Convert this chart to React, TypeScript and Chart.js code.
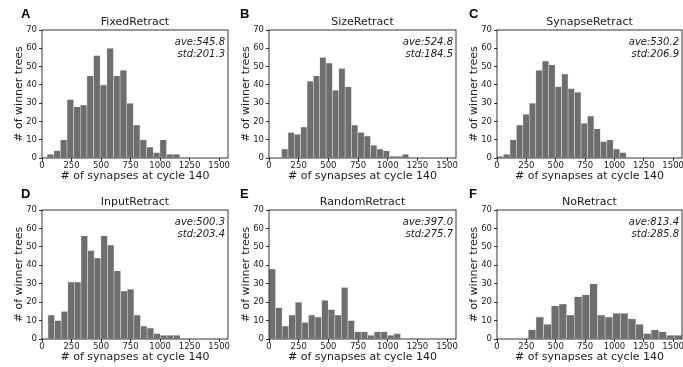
import React, { useEffect, useRef } from "react";
import { Chart, registerables } from "chart.js";

Chart.register(...registerables);

// ---------------- data ----------------
const panelTitles = ["FixedRetract", "SizeRetract", "SynapseRetract", "InputRetract", "RandomRetract", "NoRetract"];
const panelLetters = ["A", "B", "C", "D", "E", "F"];
const aveValues = ["545.8", "524.8", "530.2", "500.3", "397.0", "813.4"];
const stdValues = ["201.3", "184.5", "206.9", "203.4", "275.7", "285.8"];

// histogram bins: first edge and bin width (synapse counts)
const binStarts = [43, 106, 0, 50, 0, 266];
const binWidths = [56.2, 53.5, 55, 56, 55.4, 65.4];

const fixedCounts = [2, 4, 10, 32, 28, 29, 45, 56, 40, 60, 45, 48, 30, 18, 10, 6, 3, 10, 2, 2];
const sizeCounts = [5, 14, 13, 17, 42, 45, 55, 52, 37, 49, 39, 18, 14, 12, 7, 5, 4, 1, 1, 2];
const synapseCounts = [1, 2, 10, 18, 24, 30, 48, 53, 51, 39, 46, 38, 36, 19, 23, 16, 9, 10, 5, 3];
const inputCounts = [13, 10, 15, 31, 31, 56, 48, 44, 56, 51, 37, 26, 27, 13, 7, 6, 3, 2, 2, 2];
const randomCounts = [38, 17, 7, 13, 20, 9, 13, 12, 21, 16, 13, 28, 10, 4, 4, 2, 4, 4, 2, 3];
const noCounts = [5, 12, 8, 18, 19, 13, 23, 24, 30, 13, 12, 14, 14, 11, 8, 3, 5, 4, 2, 2];

const allCounts = [fixedCounts, sizeCounts, synapseCounts, inputCounts, randomCounts, noCounts];

const xTickValues = [0, 250, 500, 750, 1000, 1250, 1500];
const yTickValues = [0, 10, 20, 30, 40, 50, 60, 70];
const xMax = 1575;
const yMax = 70;

const xLabel = "# of synapses at cycle 140";
const yLabel = "# of winner trees";

// ---------------- layout ----------------
const colLefts = [42, 269, 497];
const colRights = [228, 456, 682];
const rowTops = [30, 210];
const rowBottoms = [158, 339];
const AXIS_W = 42;
const TOP_H = 30;
const BOTTOM_H = 26;
const RIGHT_PAD = 5;

const FONT = "'DejaVu Sans', sans-serif";
const TEXT = "#1a1a1a";
const BAR = "#6e6e6e";

const framePlugin = {
  id: "frame",
  afterDatasetsDraw(chart: any) {
    const { ctx, chartArea } = chart;
    const { left, top, right, bottom } = chartArea;
    ctx.save();
    ctx.strokeStyle = "#000";
    ctx.lineWidth = 0.8;
    ctx.strokeRect(left, top, right - left, bottom - top);
    ctx.restore();
  },
};

function Panel({ idx }: { idx: number }) {
  const ref = useRef<HTMLCanvasElement | null>(null);
  const col = idx % 3;
  const row = Math.floor(idx / 3);
  const pl = colLefts[col];
  const pr = colRights[col];
  const pt = rowTops[row];
  const pb = rowBottoms[row];
  const cw = pr - pl + AXIS_W + RIGHT_PAD;
  const ch = pb - pt + TOP_H + BOTTOM_H;

  useEffect(() => {
    if (!ref.current) return;
    const counts = allCounts[idx];
    const start = binStarts[idx];
    const w = binWidths[idx];
    const data = counts.map((c, i) => ({ x: start + w * (i + 0.5), y: c }));
    const chart = new Chart(ref.current, {
      type: "bar",
      data: {
        datasets: [
          {
            data,
            backgroundColor: BAR,
            borderColor: "rgba(215,215,215,0.7)",
            borderWidth: 0.6,
            barPercentage: 1,
            categoryPercentage: 1,
          } as any,
        ],
      },
      options: {
        responsive: false,
        animation: false,
        devicePixelRatio: 1,
        layout: { padding: { left: 0, right: RIGHT_PAD, top: 0, bottom: 0 } },
        plugins: {
          legend: { display: false },
          tooltip: { enabled: false },
          title: {
            display: true,
            text: panelTitles[idx],
            fullSize: false,
            color: TEXT,
            font: { family: FONT, size: 11, weight: "normal", lineHeight: 1.2 },
            padding: { top: 15.8, bottom: 1 },
          },
        },
        scales: {
          x: {
            type: "linear",
            min: 0,
            max: xMax,
            offset: false,
            afterFit: (s: any) => {
              s.height = BOTTOM_H;
            },
            afterBuildTicks: (s: any) => {
              s.ticks = xTickValues.map((v) => ({ value: v }));
            },
            grid: {
              offset: false,
              drawOnChartArea: false,
              drawTicks: true,
              tickLength: 3,
              tickColor: "#000",
              tickWidth: 0.8,
            },
            border: { display: false },
            ticks: {
              color: TEXT,
              font: { family: FONT, size: 8.5 },
              padding: 0,
              maxRotation: 0,
              autoSkip: false,
              callback: (v: any) => String(v),
            },
            title: {
              display: true,
              text: xLabel,
              color: TEXT,
              font: { family: FONT, size: 11, lineHeight: 1.2 },
              padding: { top: 0, bottom: 1.6 },
            },
          },
          y: {
            type: "linear",
            min: 0,
            max: yMax,
            afterFit: (s: any) => {
              s.width = AXIS_W;
            },
            afterBuildTicks: (s: any) => {
              s.ticks = yTickValues.map((v) => ({ value: v }));
            },
            grid: {
              drawOnChartArea: false,
              drawTicks: true,
              tickLength: 3,
              tickColor: "#000",
              tickWidth: 0.8,
            },
            border: { display: false },
            ticks: {
              color: TEXT,
              font: { family: FONT, size: 8.5 },
              padding: 2,
              autoSkip: false,
              callback: (v: any) => String(v),
            },
            title: {
              display: true,
              text: yLabel,
              color: TEXT,
              font: { family: FONT, size: 11, lineHeight: 1.2 },
              padding: { top: 13, bottom: 0 },
            },
          },
        },
      } as any,
      plugins: [framePlugin],
    });
    return () => chart.destroy();
  }, [idx]);

  return (
    <>
      <canvas
        ref={ref}
        width={cw}
        height={ch}
        style={{ position: "absolute", left: pl - AXIS_W, top: pt - TOP_H, width: cw, height: ch }}
      />
      <div
        style={{
          position: "absolute",
          left: pr - 3 - 120,
          width: 120,
          top: pt + 5.8,
          textAlign: "right",
          fontFamily: FONT,
          fontStyle: "italic",
          fontSize: 10,
          lineHeight: "11.7px",
          color: TEXT,
          whiteSpace: "nowrap",
        }}
      >
        <div>ave:{aveValues[idx]}</div>
        <div>std:{stdValues[idx]}</div>
      </div>
      <div
        style={{
          position: "absolute",
          left: [21, 240, 469][col],
          top: pt - 23,
          fontFamily: "'Liberation Sans', Arial, sans-serif",
          fontWeight: "bold",
          fontSize: 13,
          lineHeight: "13px",
          color: "#000",
        }}
      >
        {panelLetters[idx]}
      </div>
    </>
  );
}

export default function App() {
  return (
    <div
      style={{
        position: "absolute",
        left: 0,
        top: 0,
        width: 683,
        height: 367,
        overflow: "hidden",
        background: "#fff",
      }}
    >
      {[0, 1, 2, 3, 4, 5].map((i) => (
        <Panel key={i} idx={i} />
      ))}
    </div>
  );
}
